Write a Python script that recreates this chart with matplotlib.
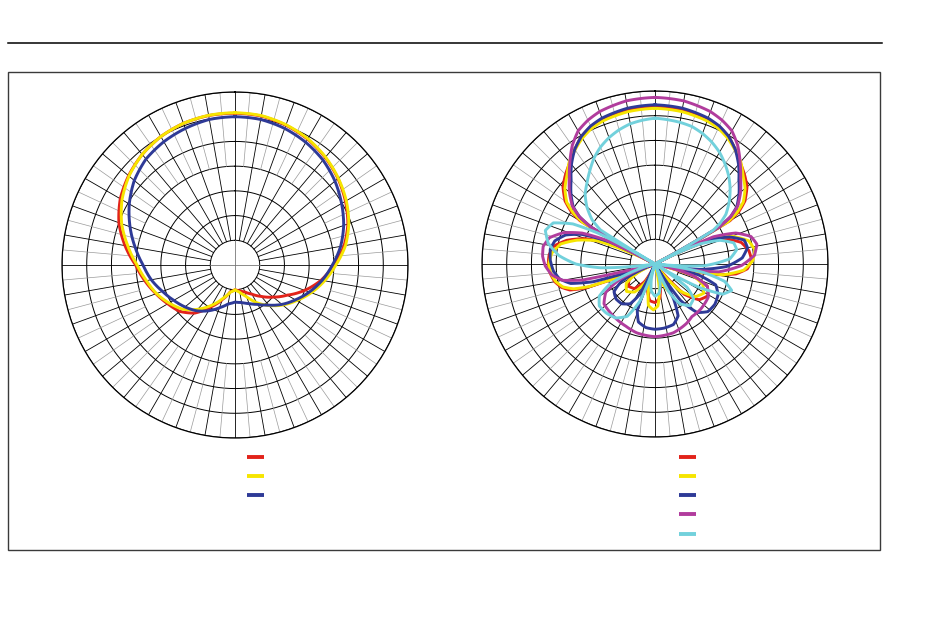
import numpy as np
import matplotlib
matplotlib.use("Agg")
import matplotlib.pyplot as plt
from matplotlib.lines import Line2D
from matplotlib.patches import Rectangle

# ---- data (levels in dB, angles in degrees clockwise from front) ----
angles_left = list(range(0, 361, 10))

left_red = [-4.3, -4.4, -4.9, -5.6, -6.6, -7.8, -9.2, -10.7, -12.6, -15.0,
            -17.3, -20.0, -22.8, -24.9, -26.7, -28.2, -29.2, -29.7, -30.0, -29.5,
            -27.6, -25.2, -22.3, -20.4, -19.3, -18.0, -16.5, -14.9, -12.4, -10.0,
            -8.2, -6.9, -5.8, -5.0, -4.5, -4.3, -4.3]
left_yellow = [-4.2, -4.3, -4.8, -5.5, -6.5, -7.7, -9.0, -10.5, -12.3, -14.6,
               -16.6, -18.6, -20.6, -22.4, -24.3, -26.2, -28.2, -29.4, -30.0, -29.4,
               -27.8, -25.6, -23.3, -21.1, -19.6, -18.1, -16.8, -15.2, -13.0, -10.6,
               -8.6, -7.0, -5.8, -5.0, -4.5, -4.25, -4.2]
left_blue = [-5.0, -5.1, -5.6, -6.35, -7.3, -8.6, -10.1, -11.6, -13.3, -15.3,
             -17.1, -19.0, -20.9, -22.6, -24.4, -25.8, -26.7, -27.3, -27.5, -27.0,
             -25.8, -24.3, -22.9, -21.8, -20.7, -19.4, -17.8, -16.4, -14.5, -12.4,
             -10.3, -8.4, -7.0, -6.2, -5.6, -5.1, -5.0]

red_deg = [0, 10, 20, 25, 30, 35, 40, 45, 50, 55, 58, 60, 62,
           66, 70, 76, 82, 88, 93, 97, 100, 103,
           107, 113, 121, 129, 136, 141, 146, 151, 156, 160,
           165, 172, 180, 188, 196, 203, 210, 220, 230, 240, 246, 249,
           251, 253, 256, 260, 265, 270, 275, 280, 285, 290, 294, 298,
           300, 302, 305, 310, 315, 320, 325, 330, 335, 340, 350, 360]
red_db = [-3.2, -3.4, -3.9, -4.3, -5.2, -6.7, -8.2, -9.4, -10.7, -12.8, -15, -17.5, -35,
          -24, -20, -17, -15.8, -15.4, -16.3, -18.5, -22.5, -35,
          -27, -23.5, -22.5, -23.5, -26.5, -35, -31, -29, -31, -35,
          -31, -28, -27.2, -27.5, -29.5, -35, -31, -28.5, -28, -29, -32, -35,
          -20, -17, -15.5, -14.4, -13.7, -13.4, -13.5, -14.2, -16.5, -20, -25, -35,
          -17.5, -15, -12.8, -10.7, -9.4, -8.2, -6.7, -5.2, -4.3, -3.9, -3.4, -3.2]

yellow_deg = [0, 10, 20, 25, 30, 35, 40, 45, 50, 55, 58, 60, 62,
              66, 70, 76, 82, 88, 94, 99, 103,
              107, 113, 121, 129, 137, 144, 148, 154, 160, 165,
              170, 176, 182, 189, 195, 200, 207, 216, 226, 236, 243, 249,
              251, 253, 256, 260, 265, 270, 276, 282, 287, 292, 297,
              300, 302, 305, 310, 315, 320, 325, 330, 335, 340, 350, 360]
yellow_db = [-3.5, -3.7, -4.2, -4.7, -5.6, -6.8, -8.0, -9.8, -11.2, -13.2, -15.5, -18, -35,
             -23, -18.5, -15.5, -14.6, -15.2, -17, -21, -35,
             -27, -24.5, -23.5, -24.5, -27.5, -35, -31, -29, -31, -35,
             -30, -26.5, -25.7, -26.5, -30, -35, -31, -28, -27, -28, -31, -35,
             -21, -17.8, -15.8, -14.6, -13.8, -13.5, -14, -15.5, -18.5, -22.5, -35,
             -18, -15.5, -13.2, -11.2, -9.8, -8.0, -6.8, -5.6, -4.7, -4.2, -3.7, -3.5]

blue_deg = [0, 10, 20, 25, 30, 35, 40, 45, 50, 55, 58, 60, 62,
            66, 70, 75, 80, 86, 92, 97, 100,
            104, 109, 116, 124, 132, 139, 145, 149,
            152, 156, 163, 172, 180, 188, 196, 201, 204,
            207, 212, 220, 228, 236, 243, 250,
            252, 254, 257, 261, 266, 272, 278, 283, 288, 292, 296, 298,
            300, 302, 305, 310, 315, 320, 325, 330, 335, 340, 350, 360]
blue_db = [-2.8, -3.0, -3.6, -4.2, -5.2, -6.7, -8.7, -11, -12.8, -14.8, -17, -20, -35,
           -23, -19, -16.3, -16, -17.3, -20.5, -26, -35,
           -26, -22, -20.8, -20.4, -20.6, -22, -26, -35,
           -27, -23.5, -22.2, -21.9, -21.8, -22, -22.8, -25, -35,
           -28, -25.5, -24.5, -24.4, -25, -27.5, -35,
           -35, -22, -17.5, -15.5, -14.4, -13.8, -13.6, -14.2, -16, -19, -25, -35,
           -20, -17, -14.8, -12.8, -11, -8.7, -6.7, -5.2, -4.2, -3.6, -3.0, -2.8]

magenta_deg = [0, 10, 20, 25, 30, 35, 40, 45, 50, 55, 58, 60, 62,
               65, 69, 74, 79, 85, 91, 97, 102,
               107, 113, 122, 135, 145, 152, 165, 180, 195, 205, 218, 232, 240, 246, 250, 256,
               257.5, 260, 264, 269, 274, 279, 284, 289, 293, 296, 298,
               300, 302, 305, 310, 315, 320, 325, 330, 335, 340, 350, 360]
magenta_db = [-1.3, -1.5, -2.2, -2.9, -3.9, -5.8, -8.2, -10.5, -12.4, -14.6, -17, -20, -35,
              -22, -17.5, -14.8, -14.0, -14.8, -17.5, -22, -35,
              -27, -23.5, -22.3, -22, -22, -21.4, -20.6, -20.3, -20.6, -21.1, -21.5, -21.9, -23.5, -27, -31, -35,
              -20, -16, -14, -12.8, -12.2, -12.1, -13, -15.5, -19, -24, -35,
              -20, -17, -14.6, -12.4, -10.5, -8.2, -5.8, -3.9, -2.9, -2.2, -1.5, -1.3]

cyan_deg = [0, 10, 15, 20, 25, 30, 35, 40, 45, 50, 55, 58, 60, 62,
            66, 70, 75, 80, 86, 92, 96,
            100, 104, 109, 114, 118, 122,
            126, 132, 140, 148, 154, 157, 165, 172, 180, 188, 194, 198,
            202, 208, 216, 225, 233, 240, 246, 252, 258, 262,
            266, 270, 275, 281, 287, 292, 296, 298.5, 301,
            302, 305, 310, 315, 320, 325, 330, 335, 340, 345, 350, 355, 360]
cyan_db = [-5.5, -5.9, -6.2, -6.9, -7.8, -8.9, -10.3, -11.8, -13.5, -15.4, -17.5, -19.5, -21.5, -35,
           -25, -21, -18.5, -18.2, -19.8, -25, -35,
           -25, -20.5, -18.6, -20, -25, -35,
           -27, -24.5, -24, -25.5, -29, -35, -31, -29, -28.5, -29.5, -32, -35,
           -27, -23, -21.5, -21, -20.9, -22, -25, -31, -35, -35,
           -24, -19, -15.5, -13, -11.8, -12.8, -16.5, -22, -35,
           -22, -19.5, -17, -15, -13.6, -12, -10.3, -8.9, -7.8, -6.9, -6.2, -5.8, -5.5]

c_red = "#e2231a"
c_yellow = "#f6e500"
c_blue = "#2e3a97"
c_magenta = "#b13c9d"
c_cyan = "#72d1dc"

RMIN, RMAX = -35, 0


def polar_grid(ax):
    ax.set_theta_zero_location("N")
    ax.set_theta_direction(-1)
    ax.set_ylim(RMIN, RMAX)
    ax.set_xticks([])
    ax.set_yticks([])
    ax.grid(False)
    ax.spines["polar"].set_linewidth(0.9)
    ax.spines["polar"].set_color("black")
    full = np.linspace(0, 2 * np.pi, 721)
    for r in range(-30, 1, 5):
        ax.plot(full, np.full_like(full, r), color="black", lw=0.7, zorder=1)
    for d in range(0, 360, 10):
        t = np.deg2rad(d)
        ax.plot([t, t], [-30, 0], color="black", lw=0.6, zorder=1)
    for d in range(5, 360, 10):
        t = np.deg2rad(d)
        ax.plot([t, t], [-15, 0], color="#9a9a9a", lw=0.5, zorder=1)
    for d in (0, 90, 180, 270):
        t = np.deg2rad(d)
        ax.plot([t, t], [RMIN, -30], color="#777777", lw=0.6, zorder=1)


def curve(ax, deg, db, color):
    ln, = ax.plot(np.deg2rad(deg), np.clip(db, RMIN, RMAX), color=color, lw=2.1,
                  solid_joinstyle="round", zorder=3)
    # let the polar transform draw each segment as a curve in (theta, r)
    ln.get_path()._interpolation_steps = 24


fig = plt.figure(figsize=(9.5, 6.38), dpi=100)

ax1 = fig.add_axes([62 / 950, 200 / 638, 346 / 950, 346 / 638], projection="polar")
polar_grid(ax1)
curve(ax1, angles_left, left_red, c_red)
curve(ax1, angles_left, left_yellow, c_yellow)
curve(ax1, angles_left, left_blue, c_blue)

ax2 = fig.add_axes([482 / 950, 201 / 638, 346 / 950, 346 / 638], projection="polar")
polar_grid(ax2)
curve(ax2, red_deg, red_db, c_red)
curve(ax2, yellow_deg, yellow_db, c_yellow)
curve(ax2, blue_deg, blue_db, c_blue)
curve(ax2, magenta_deg, magenta_db, c_magenta)
curve(ax2, cyan_deg, cyan_db, c_cyan)


# legends (no labels in the original)
def key(colors, x, y):
    handles = [Line2D([], [], color=c, lw=2.8, solid_capstyle="butt") for c in colors]
    fig.legend(handles, [" "] * len(colors), loc="upper left",
               bbox_to_anchor=(x / 950, 1 - y / 638), frameon=False,
               fontsize=9, handlelength=1.38, labelspacing=0.5,
               borderpad=0, borderaxespad=0, handletextpad=0.3)


key([c_red, c_yellow, c_blue], 247, 451)
key([c_red, c_yellow, c_blue, c_magenta, c_cyan], 679, 451)

# frame and rule
fig.add_artist(Line2D([8 / 950, 882 / 950], [1 - 43 / 638, 1 - 43 / 638],
                      transform=fig.transFigure, color="black", lw=1.1))
fig.add_artist(Rectangle((8 / 950, 1 - 550 / 638), 872 / 950, 478 / 638,
                         transform=fig.transFigure, fill=False,
                         edgecolor="#3a3a3a", lw=1.0))

fig.savefig("out.png", dpi=100)
